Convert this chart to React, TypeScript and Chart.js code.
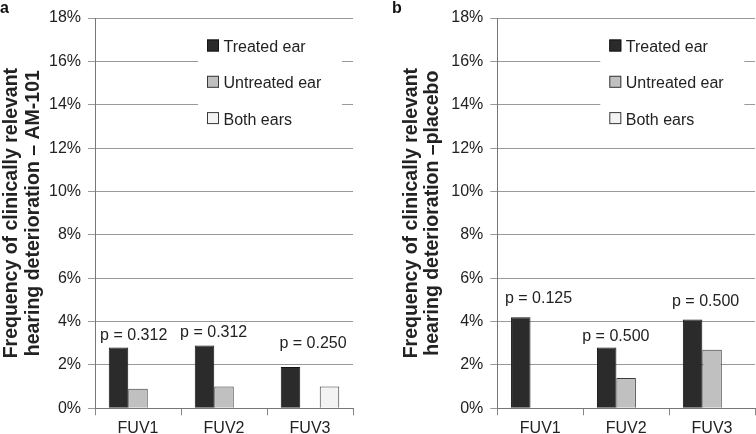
import React, { useEffect, useRef } from 'react';
import { Chart, registerables } from 'chart.js';

Chart.register(...registerables);

const FONT = '"Liberation Sans", Arial, Helvetica, sans-serif';

// ---- data ----
const categories = ['FUV1', 'FUV2', 'FUV3'];
const seriesNames = ['Treated ear', 'Untreated ear', 'Both ears'];

const amTreated = [2.8, 2.9, 1.9];
const amUntreated = [0.9, 1.0, null];
const amBoth = [null, null, 1.0];

const plTreated = [4.2, 2.8, 4.1];
const plUntreated = [null, 1.4, 2.7];
const plBoth = [null, null, null];

const amPLabels = ['p = 0.312', 'p = 0.312', 'p = 0.250'];
const plPLabels = ['p = 0.125', 'p = 0.500', 'p = 0.500'];

// label anchors (value units, %)
const amPLabelY = [3.16, 3.27, 2.8];
const plPLabelY = [4.87, 3.12, 4.71];

const yMax = 18;
const yStep = 2;

const amTitle = ['Frequency of clinically relevant', 'hearing deterioration \u2013 AM-101'];
const plTitle = ['Frequency of clinically relevant', 'hearing deterioration \u2013placebo'];

const seriesColors = ['#2b2b2b', '#c0c0c0', '#f3f3f3'];
const seriesBorders = ['#141414', '#3a3a3a', '#3a3a3a'];

const decorPlugin = {
  id: 'panelDecor',
  afterDraw(chart: any, _args: any, opts: any) {
    const { ctx, chartArea, scales } = chart;
    const x = scales.x;
    const y = scales.y;
    ctx.save();
    // panel letter
    ctx.font = `bold 16px ${FONT}`;
    ctx.fillStyle = '#111';
    ctx.textAlign = 'left';
    ctx.textBaseline = 'alphabetic';
    ctx.fillText(opts.letter, opts.letterX, 13.3);

    // legend
    const lx = chartArea.left + 103;
    const ly = chartArea.top + 7;
    ctx.fillStyle = '#ffffff';
    ctx.fillRect(lx, ly, 144, 112);
    chart.data.datasets.forEach((ds: any, i: number) => {
      const cy = chartArea.top + 27.5 + i * 36.3;
      const mx = chartArea.left + 112;
      ctx.fillStyle = ds.backgroundColor;
      ctx.fillRect(mx, cy - 6, 12, 12);
      ctx.strokeStyle = ds.borderColor;
      ctx.lineWidth = 1;
      ctx.strokeRect(mx + 0.5, cy - 5.5, 11, 11);
      ctx.fillStyle = '#222';
      ctx.font = `16px ${FONT}`;
      ctx.textAlign = 'left';
      ctx.fillText(ds.label, chartArea.left + 128.5, cy + 6.5);
    });

    // p-value labels
    const catW = x.getPixelForValue(1) - x.getPixelForValue(0);
    ctx.font = `16px ${FONT}`;
    ctx.fillStyle = '#222';
    ctx.textAlign = 'center';
    opts.pLabels.forEach((t: string, i: number) => {
      const cx = x.getPixelForValue(i) + opts.pShift[i] * catW;
      const py = y.getPixelForValue(opts.pY[i]);
      ctx.fillText(t, cx, py);
    });
    ctx.restore();
  },
};

type PanelProps = {
  left: number;
  letter: string;
  letterX: number;
  title: string[];
  series: (number | null)[][];
  pLabels: string[];
  pY: number[];
  pShift: number[];
  padLeft: number;
  padRight: number;
  yWidth: number;
};

function Panel(props: PanelProps) {
  const ref = useRef<HTMLCanvasElement>(null);
  useEffect(() => {
    if (!ref.current) return;
    const chart = new Chart(ref.current, {
      type: 'bar',
      data: {
        labels: categories,
        datasets: props.series.map((vals, i) => ({
          label: seriesNames[i],
          data: vals,
          backgroundColor: seriesColors[i],
          borderColor: seriesBorders[i],
          borderWidth: 1,
          categoryPercentage: 0.68,
          barPercentage: 1.0,
        })),
      },
      plugins: [decorPlugin as any],
      options: {
        responsive: false,
        animation: false,
        devicePixelRatio: 1,
        layout: { padding: { left: props.padLeft, top: 18, right: props.padRight, bottom: 0 } },
        plugins: {
          legend: { display: false },
          tooltip: { enabled: false },
          panelDecor: {
            letter: props.letter,
            letterX: props.letterX,
            pLabels: props.pLabels,
            pY: props.pY,
            pShift: props.pShift,
          },
        } as any,
        scales: {
          x: {
            grid: {
              display: true,
              drawOnChartArea: false,
              drawTicks: true,
              tickLength: 7,
              color: '#888',
              offset: true,
            },
            border: { display: true, color: '#777', width: 1 },
            ticks: { font: { family: FONT, size: 16 }, color: '#222', padding: 4 },
            afterFit: (s: any) => {
              s.height = 25.7;
            },
          },
          y: {
            min: 0,
            max: yMax,
            ticks: {
              stepSize: yStep,
              callback: (v: any) => `${v}%`,
              font: { family: FONT, size: 16 },
              color: '#222',
              padding: 7,
            },
            grid: { color: '#999', tickLength: 7, lineWidth: 1 },
            border: { display: true, color: '#777', width: 1 },
            title: {
              display: true,
              text: props.title,
              font: { family: FONT, size: 19.5, weight: 'bold', lineHeight: 1.108 },
              color: '#222',
              padding: 0,
            },
            afterFit: (s: any) => {
              s.width = props.yWidth;
            },
          },
        },
      } as any,
    });
    return () => chart.destroy();
  }, []);
  return (
    <canvas
      ref={ref}
      width={378}
      height={434}
      style={{ position: 'absolute', left: props.left, top: 0, width: 378, height: 434 }}
    />
  );
}

export default function App() {
  return (
    <div style={{ position: 'absolute', left: 0, top: 0, width: 756, height: 434, background: '#fff' }}>
      <Panel
        left={0}
        letter="a"
        letterX={0}
        title={amTitle}
        series={[amTreated, amUntreated, amBoth]}
        pLabels={amPLabels}
        pY={amPLabelY}
        pShift={[-0.05, -0.12, 0.035]}
        padLeft={0.9}
        padRight={25}
        yWidth={94.1}
      />
      <Panel
        left={378}
        letter="b"
        letterX={14}
        title={plTitle}
        series={[plTreated, plUntreated, plBoth]}
        pLabels={plPLabels}
        pY={plPLabelY}
        pShift={[-0.02, -0.12, -0.075]}
        padLeft={22.5}
        padRight={1}
        yWidth={96.8}
      />
    </div>
  );
}
